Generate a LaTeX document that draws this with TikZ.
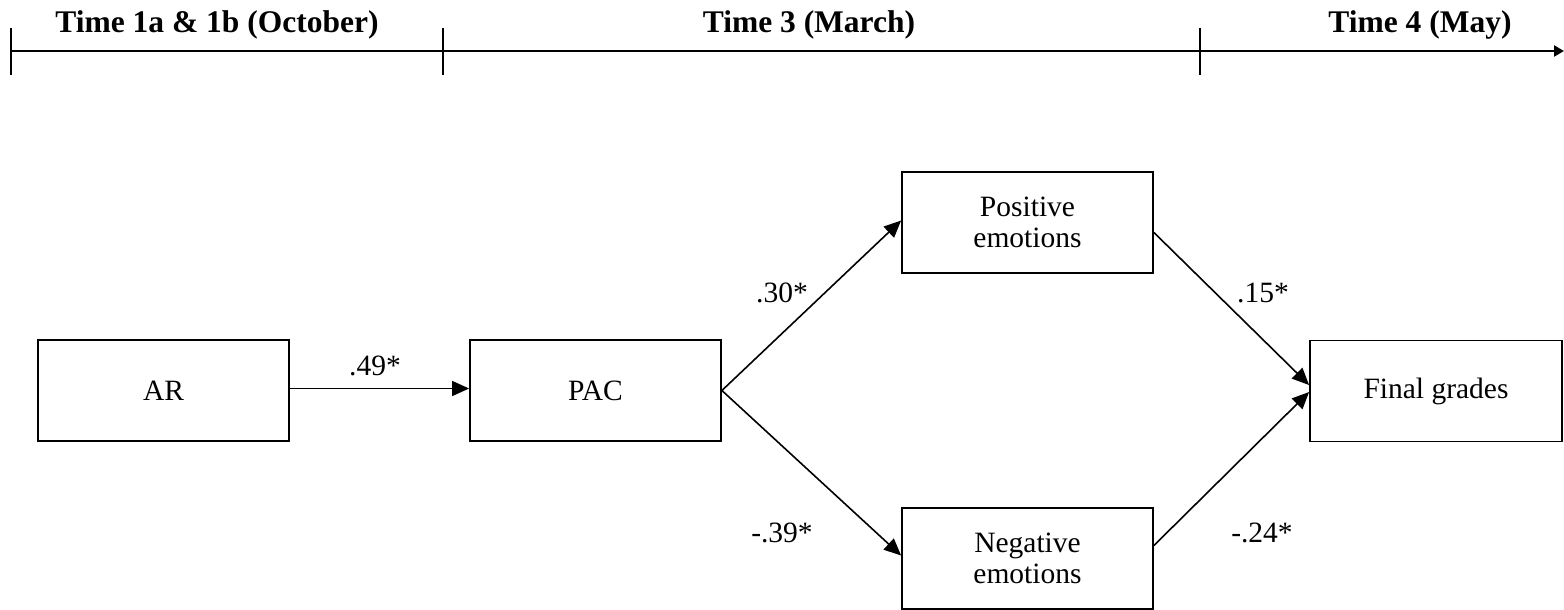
\documentclass[tikz,border=0pt]{standalone}
\usepackage{fontspec}
\setmainfont{Liberation Serif}
\usetikzlibrary{arrows.meta}
\begin{document}
\begin{tikzpicture}[x=1pt,y=-1pt,
  box/.style={draw,line width=1.8pt,minimum width=251pt,minimum height=101pt,inner sep=0pt,align=center,
    font=\fontsize{29.5}{31}\selectfont},
  path/.style={line width=1.6pt,-{Triangle[length=17pt,width=15pt]}},
  coef/.style={anchor=base,inner sep=0pt,font=\fontsize{29.5}{31}\selectfont},
  head/.style={anchor=base,inner sep=0pt,font=\fontsize{31.5}{33}\selectfont\bfseries},
  tick/.style={line width=1.6pt}]
\useasboundingbox (0,0) rectangle (1564,610);
% timeline
\coordinate (t0) at (11,51);
\coordinate (tend) at (1564,51);
\coordinate (t1) at (443,51);
\coordinate (t2) at (1200,51);
\draw[line width=2.2pt,-{Triangle[length=10pt,width=11pt]}] (t0) -- (tend);
\foreach \t in {t0,t1,t2}{
  \draw[tick] ([yshift=23pt]\t) -- ([yshift=-24pt]\t);
}
\node[head] (h1) at (217,33) {Time 1a \& 1b (October)};
\node[head] (h3) at (809,33) {Time 3 (March)};
\node[head] (h4) at (1420,33) {Time 4 (May)};
% boxes
\node[box] (ar) at (163.5,390.5) {AR};
\node[box] (pac) at (595.5,390.5) {PAC};
\node[box] (pos) at (1027.5,222.5) {Positive\\emotions};
\node[box] (neg) at (1027.5,558.5) {Negative\\emotions};
\node[box,minimum width=252pt] (fin) at (1436,391) {Final grades};
% paths
\draw[path] ([yshift=2pt]ar.east) -- ([yshift=2pt]pac.west);
\draw[path] (pac.east) -- ([yshift=2pt]pos.west);
\draw[path] (pac.east) -- ([yshift=3pt]neg.west);
\draw[path] ([yshift=-10pt]pos.east) -- ([yshift=6pt]fin.west);
\draw[path] ([yshift=13pt]neg.east) -- ([yshift=-1pt]fin.west);
% coefficients
\node[coef] (c1) at (375,375) {.49*};
\node[coef] (c2) at (782,302) {.30*};
\node[coef] (c3) at (782,542) {-.39*};
\node[coef] (c4) at (1263,302) {.15*};
\node[coef] (c5) at (1262,542) {-.24*};
\end{tikzpicture}
\end{document}
